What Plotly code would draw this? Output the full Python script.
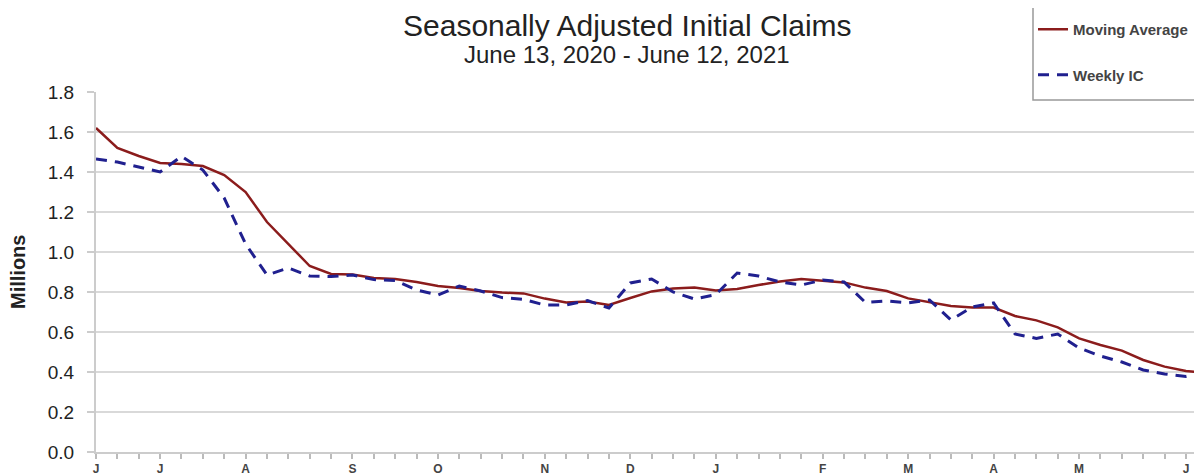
import pandas as pd
import plotly.graph_objects as go

# ---- data ----
week_ending = pd.date_range("2020-06-13", periods=53, freq="7D")
moving_average = [1.62, 1.52, 1.48, 1.445, 1.44, 1.43, 1.385, 1.30, 1.15, 1.04,
                  0.93, 0.89, 0.888, 0.87, 0.865, 0.85, 0.83, 0.82, 0.805, 0.797,
                  0.793, 0.767, 0.747, 0.752, 0.735, 0.77, 0.803, 0.818, 0.823, 0.807,
                  0.815, 0.835, 0.852, 0.865, 0.857, 0.848, 0.822, 0.805, 0.768, 0.748,
                  0.73, 0.722, 0.722, 0.68, 0.658, 0.623, 0.568, 0.535, 0.507, 0.46,
                  0.427, 0.405, 0.395]
weekly_ic = [1.465, 1.45, 1.425, 1.40, 1.478, 1.41, 1.27, 1.04, 0.885, 0.92,
             0.88, 0.877, 0.885, 0.862, 0.857, 0.81, 0.785, 0.83, 0.805, 0.772,
             0.763, 0.735, 0.735, 0.757, 0.72, 0.845, 0.865, 0.80, 0.765, 0.787,
             0.895, 0.88, 0.85, 0.835, 0.86, 0.85, 0.748, 0.755, 0.745, 0.76,
             0.66, 0.725, 0.745, 0.59, 0.568, 0.59, 0.52, 0.48, 0.45, 0.41,
             0.39, 0.378, 0.40]
month_letters = ["J", "F", "M", "A", "M", "J", "J", "A", "S", "O", "N", "D"]
y_ticks = [0.0, 0.2, 0.4, 0.6, 0.8, 1.0, 1.2, 1.4, 1.6, 1.8]

tick_text = []
prev = None
for d in week_ending:
    tick_text.append(month_letters[d.month - 1] if d.month != prev else "")
    prev = d.month

FONT = "Arial, Liberation Sans, sans-serif"
OFF = 8                      # page body margin offset
W, H = 1202 - OFF, 476 - OFF
L, T = 96 - OFF, 92 - OFF
PLOT_BOTTOM = 452 - OFF
B = H - PLOT_BOTTOM
PW, PH = W - L, PLOT_BOTTOM - T

def px_x(x):                 # target screenshot px -> paper coord
    return (x - OFF - L) / PW

def px_y(y):
    return (PLOT_BOTTOM - (y - OFF)) / PH

fig = go.Figure()
fig.add_trace(go.Scatter(x=week_ending, y=moving_average, mode="lines",
                         name="Moving Average", legendgroup="a",
                         line=dict(color="#8b1c1c", width=2.5)))
fig.add_trace(go.Scatter(x=week_ending, y=weekly_ic, mode="lines",
                         name="Weekly IC", legendgroup="b",
                         line=dict(color="#20208f", width=3, dash="11px,8px")))

x_end = week_ending[0] + pd.Timedelta(days=7 * 51.75)
fig.update_layout(
    width=W, height=H,
    margin=dict(l=L, r=0, t=T, b=B, autoexpand=False),
    plot_bgcolor="white", paper_bgcolor="white",
    font=dict(family=FONT, color="#222"),
    showlegend=True,
    legend=dict(x=px_x(1033), y=px_y(13), xanchor="left", yanchor="top",
                bgcolor="rgba(0,0,0,0)", borderwidth=0,
                font=dict(family=FONT, size=15, color="#444", weight="bold"),
                tracegroupgap=23),
    xaxis=dict(type="date", range=[week_ending[0], x_end],
               tickmode="array", tickvals=list(week_ending), ticktext=tick_text,
               ticks="outside", ticklen=5, tickcolor="#bbb", tickwidth=1.5,
               showline=True, linecolor="#ccc", linewidth=2,
               showgrid=False, zeroline=False,
               tickfont=dict(family=FONT, size=12, color="#444", weight="bold")),
    yaxis=dict(range=[0, 1.8], tickmode="array", tickvals=y_ticks,
               ticktext=[f"{v:.1f}" for v in y_ticks],
               ticks="outside", ticklen=7, tickcolor="#ccc", tickwidth=1.5,
               ticklabelstandoff=9,
               showline=True, linecolor="#ccc", linewidth=2,
               showgrid=True, gridcolor="#d9d9d9", gridwidth=1.5, zeroline=False,
               tickfont=dict(family=FONT, size=19, color="#222")),
    shapes=[dict(type="rect", xref="paper", yref="paper",
                 x0=px_x(1033), x1=px_x(1230), y0=px_y(100), y1=px_y(6),
                 line=dict(color="#999", width=1.5), fillcolor="white",
                 layer="above")],
    annotations=[
        dict(text="Seasonally Adjusted Initial Claims", xref="paper", yref="paper",
             x=px_x(627), y=px_y(25), xanchor="center", yanchor="middle",
             showarrow=False, font=dict(family=FONT, size=30, color="#222")),
        dict(text="June 13, 2020 - June 12, 2021", xref="paper", yref="paper",
             x=px_x(627), y=px_y(55), xanchor="center", yanchor="middle",
             showarrow=False, font=dict(family=FONT, size=24, color="#222")),
        dict(text="Millions", xref="paper", yref="paper", textangle=-90,
             x=px_x(18), y=px_y(272), xanchor="center", yanchor="middle",
             showarrow=False, font=dict(family=FONT, size=20, color="#222", weight="bold")),
    ],
)

fig.write_html("out.html")
